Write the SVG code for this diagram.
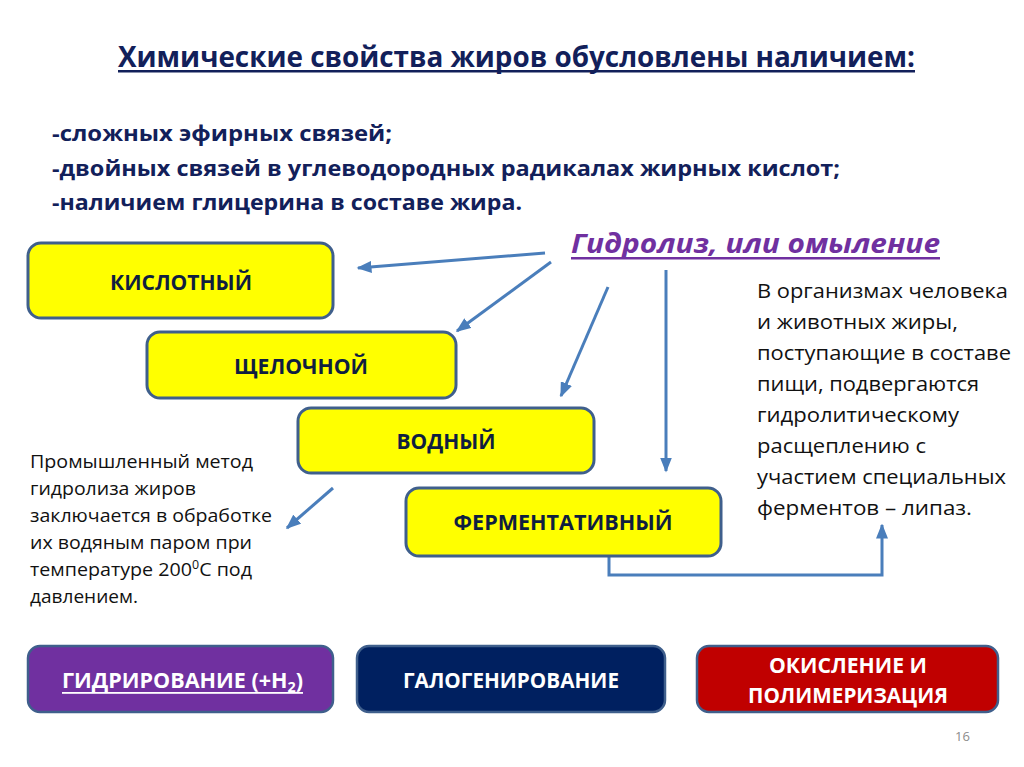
<svg xmlns="http://www.w3.org/2000/svg" width="1024" height="767" viewBox="0 0 1024 767">
<defs>
<marker id="ah" markerWidth="5" markerHeight="4" refX="4.5" refY="2" orient="auto" markerUnits="strokeWidth">
<path d="M0,0 L5,2 L0,4 Z" fill="#4A7EBB"/>
</marker>
<style>
.txt{font-family:"Open Sans","Liberation Sans",sans-serif}
.navy{fill:#12205A;font-weight:bold}
.yb{fill:#FFFF00;stroke:#3F5F8C;stroke-width:3}
.bb{stroke:#3F5F8C;stroke-width:2.5}
.bl{font-family:"Open Sans","Liberation Sans",sans-serif;font-weight:bold;font-size:22px;fill:#0F1E40;text-anchor:middle}
.wl{font-family:"Open Sans","Liberation Sans",sans-serif;font-weight:bold;font-size:21px;fill:#FFFFFF}
.body{font-family:"Open Sans","Liberation Sans",sans-serif;fill:#111111}
.conn{fill:none;stroke:#4A7EBB;stroke-width:3;marker-end:url(#ah)}
</style>
</defs>
<rect width="1024" height="767" fill="#FFFFFF"/>
<g id="title">
<text class="txt navy" x="118" y="67" font-size="28" textLength="797" lengthAdjust="spacingAndGlyphs">Химические свойства жиров обусловлены наличием:</text>
<rect x="118" y="70" width="797" height="2.5" fill="#12205A"/>
</g>
<g id="bullets" class="txt navy" font-size="22">
<text x="52" y="141" textLength="340" lengthAdjust="spacingAndGlyphs">-сложных эфирных связей;</text>
<text x="52" y="176" textLength="788" lengthAdjust="spacingAndGlyphs">-двойных связей в углеводородных радикалах жирных кислот;</text>
<text x="52" y="210" textLength="470" lengthAdjust="spacingAndGlyphs">-наличием глицерина в составе жира.</text>
</g>
<g id="hydrolysis">
<text class="txt" x="571" y="253" font-size="27" font-weight="bold" font-style="italic" fill="#7030A0" textLength="369" lengthAdjust="spacingAndGlyphs">Гидролиз, или омыление</text>
<rect x="571" y="257" width="369" height="2.5" fill="#7030A0"/>
</g>
<g id="connectors">
<line class="conn" x1="545" y1="253" x2="358" y2="268"/>
<line class="conn" x1="551" y1="262" x2="457" y2="331"/>
<line class="conn" x1="608" y1="287" x2="561" y2="396"/>
<line class="conn" x1="666" y1="270" x2="666" y2="471"/>
<line class="conn" x1="333" y1="488" x2="287" y2="528"/>
<path class="conn" d="M609,556 V575 H882 V525"/>
</g>
<g id="acid">
<rect class="yb" x="28" y="243" width="305" height="75" rx="13"/>
<text class="bl" x="181" y="290" textLength="142" lengthAdjust="spacingAndGlyphs">КИСЛОТНЫЙ</text>
</g>
<g id="alkaline">
<rect class="yb" x="147" y="332" width="309" height="66" rx="13"/>
<text class="bl" x="301" y="374" textLength="134" lengthAdjust="spacingAndGlyphs">ЩЕЛОЧНОЙ</text>
</g>
<g id="water">
<rect class="yb" x="298" y="408" width="296" height="65" rx="13"/>
<text class="bl" x="446" y="449" textLength="99" lengthAdjust="spacingAndGlyphs">ВОДНЫЙ</text>
</g>
<g id="enzymatic">
<rect class="yb" x="406" y="488" width="315" height="68" rx="13"/>
<text class="bl" x="563" y="530" textLength="219" lengthAdjust="spacingAndGlyphs">ФЕРМЕНТАТИВНЫЙ</text>
</g>
<g id="note-right" class="body" font-size="20">
<text x="757" y="298" textLength="251" lengthAdjust="spacingAndGlyphs">В организмах человека</text>
<text x="757" y="329" textLength="201" lengthAdjust="spacingAndGlyphs">и животных жиры,</text>
<text x="757" y="360" textLength="254" lengthAdjust="spacingAndGlyphs">поступающие в составе</text>
<text x="757" y="391" textLength="222" lengthAdjust="spacingAndGlyphs">пищи, подвергаются</text>
<text x="757" y="422" textLength="202" lengthAdjust="spacingAndGlyphs">гидролитическому</text>
<text x="757" y="453" textLength="169" lengthAdjust="spacingAndGlyphs">расщеплению с</text>
<text x="757" y="484" textLength="249" lengthAdjust="spacingAndGlyphs">участием специальных</text>
<text x="757" y="515" textLength="215" lengthAdjust="spacingAndGlyphs">ферментов – липаз.</text>
</g>
<g id="note-left" class="body" font-size="19">
<text x="30" y="468" textLength="223" lengthAdjust="spacingAndGlyphs">Промышленный метод</text>
<text x="30" y="495" textLength="166" lengthAdjust="spacingAndGlyphs">гидролиза жиров</text>
<text x="30" y="522" textLength="242" lengthAdjust="spacingAndGlyphs">заключается в обработке</text>
<text x="30" y="549" textLength="222" lengthAdjust="spacingAndGlyphs">их водяным паром при</text>
<text x="30" y="576" textLength="222" lengthAdjust="spacingAndGlyphs">температуре 200<tspan font-size="12" dy="-7">0</tspan><tspan dy="7">С под</tspan></text>
<text x="30" y="603" textLength="108" lengthAdjust="spacingAndGlyphs">давлением.</text>
</g>
<g id="hydrogenation">
<rect class="bb" x="28" y="646" width="305" height="66" rx="12" fill="#7030A0"/>
<text class="wl" x="62" y="688" textLength="241" lengthAdjust="spacingAndGlyphs">ГИДРИРОВАНИЕ (+H<tspan font-size="14" dy="4">2</tspan><tspan dy="-4">)</tspan></text>
<rect x="62" y="692" width="241" height="1.8" fill="#FFFFFF"/>
</g>
<g id="halogenation">
<rect class="bb" x="357" y="646" width="308" height="66" rx="12" fill="#002060"/>
<text class="wl" x="511" y="688" text-anchor="middle" textLength="216" lengthAdjust="spacingAndGlyphs">ГАЛОГЕНИРОВАНИЕ</text>
</g>
<g id="oxidation">
<rect class="bb" x="697" y="646" width="301" height="66" rx="12" fill="#C00000"/>
<text class="wl" x="848" y="673" text-anchor="middle" textLength="158" lengthAdjust="spacingAndGlyphs">ОКИСЛЕНИЕ И</text>
<text class="wl" x="848" y="703" text-anchor="middle" textLength="200" lengthAdjust="spacingAndGlyphs">ПОЛИМЕРИЗАЦИЯ</text>
</g>
<text class="txt" x="955" y="741" font-size="13" fill="#8C8C8C">16</text>
</svg>
